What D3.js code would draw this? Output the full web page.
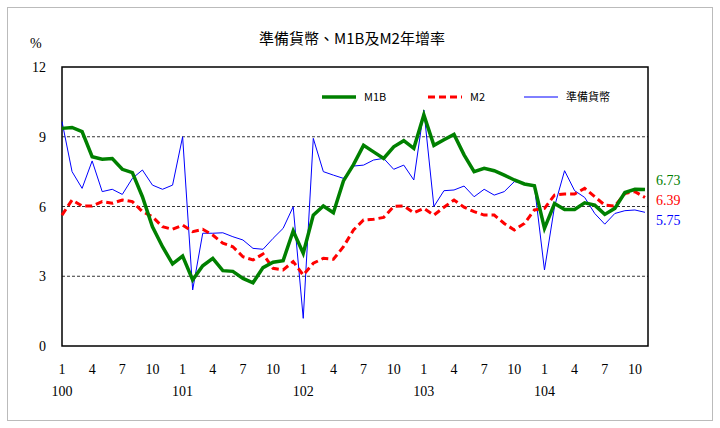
<!DOCTYPE html><html><head><meta charset="utf-8"><script src="https://cdn.jsdelivr.net/npm/d3@7"></script>
<style>body{margin:0;background:#fff}</style></head><body><svg id="c" width="720" height="428"></svg><script>
const m1b=[9.36,9.40,9.22,8.14,8.03,8.06,7.60,7.46,6.42,5.13,4.27,3.53,3.87,2.84,3.45,3.77,3.24,3.21,2.91,2.72,3.37,3.60,3.67,4.95,3.99,5.63,6.02,5.73,7.10,7.80,8.63,8.35,8.07,8.57,8.83,8.50,9.94,8.63,8.87,9.10,8.22,7.50,7.64,7.54,7.35,7.14,6.97,6.89,5.06,6.13,5.87,5.87,6.16,6.06,5.66,5.92,6.60,6.74,6.73];
const m2=[5.63,6.28,6.02,6.02,6.21,6.14,6.28,6.21,5.78,5.56,5.13,5.02,5.20,4.92,5.02,4.77,4.42,4.27,3.84,3.70,3.96,3.34,3.27,3.63,3.05,3.56,3.77,3.73,4.27,4.99,5.42,5.45,5.53,6.00,6.03,5.73,5.92,5.63,5.97,6.28,5.97,5.78,5.63,5.63,5.27,4.99,5.27,5.85,5.92,6.49,6.54,6.54,6.78,6.42,6.06,6.02,6.56,6.64,6.39];
const reserve=[9.65,7.50,6.78,7.96,6.64,6.74,6.52,7.21,7.57,6.92,6.74,6.92,9.00,2.41,4.85,4.85,4.87,4.70,4.56,4.20,4.16,4.63,5.06,5.99,1.19,8.93,7.50,7.35,7.21,7.74,7.78,8.00,8.07,7.60,7.78,7.14,10.15,6.00,6.68,6.71,6.88,6.42,6.74,6.49,6.64,7.07,7.00,6.88,3.27,6.00,7.54,6.68,6.39,5.70,5.24,5.70,5.82,5.85,5.75];
const yTicks=[0,3,6,9,12];
const monthLabels=["1","4","7","10"];
const years=["100","101","102","103","104"];
const svg=d3.select("#c");
const L=62,R=648,T=67,B=346;
const x=d3.scaleLinear().domain([0,58.3]).range([L,R]);
const y=d3.scaleLinear().domain([0,12]).range([B,T]);
const serif="'Liberation Serif','Times New Roman',serif", cjk="'Noto Sans CJK TC',sans-serif";
svg.append("rect").attr("x",7.5).attr("y",7.5).attr("width",705).attr("height",413).attr("fill","none").attr("stroke","#bbb");
svg.append("text").attr("x",352).attr("y",44).attr("text-anchor","middle").attr("font-size",15).attr("font-family",cjk+","+serif).text("準備貨幣、M1B及M2年增率");
svg.append("text").attr("x",30).attr("y",48).attr("font-size",14).attr("font-family",serif).text("%");
[3,6,9].forEach(v=>svg.append("line").attr("x1",L).attr("x2",R).attr("y1",y(v)).attr("y2",y(v)).attr("stroke","#000").attr("stroke-dasharray","3,2").attr("stroke-width",0.8));
svg.append("rect").attr("x",L).attr("y",T).attr("width",R-L).attr("height",B-T).attr("fill","none").attr("stroke","#000").attr("stroke-width",1.5);
yTicks.forEach(v=>svg.append("text").attr("x",46).attr("y",y(v)+5).attr("text-anchor","end").attr("font-size",14).attr("font-family",serif).text(v));
years.forEach((yr,k)=>{monthLabels.forEach((ml,j)=>{const i=k*12+j*3;if(i>58)return;svg.append("text").attr("x",x(i)).attr("y",374).attr("text-anchor","middle").attr("font-size",14).attr("font-family",serif).text(ml);});
 svg.append("text").attr("x",x(k*12)).attr("y",396).attr("text-anchor","middle").attr("font-size",14).attr("font-family",serif).text(yr);});
const line=d3.line().x((d,i)=>x(i)).y(d=>y(d));
svg.append("path").datum(reserve).attr("d",line).attr("fill","none").attr("stroke","#0000ff").attr("stroke-width",1);
svg.append("path").datum(m2).attr("d",line).attr("fill","none").attr("stroke","#ff0000").attr("stroke-width",3).attr("stroke-dasharray","7,4");
svg.append("path").datum(m1b).attr("d",line).attr("fill","none").attr("stroke","#008000").attr("stroke-width",3.5);
const leg=[{n:"M1B",c:"#008000",w:3.5,d:null,x:322},{n:"M2",c:"#ff0000",w:3,d:"7,4",x:428},{n:"準備貨幣",c:"#0000ff",w:1,d:null,x:524}];
leg.forEach(l=>{svg.append("line").attr("x1",l.x).attr("x2",l.x+34).attr("y1",97).attr("y2",97).attr("stroke",l.c).attr("stroke-width",l.w).attr("stroke-dasharray",l.d);
 svg.append("text").attr("x",l.x+42).attr("y",101).attr("font-size",11).attr("font-family",cjk).text(l.n);});
[[m1b,"#008000",185],[m2,"#ff0000",205],[reserve,"#0000ff",225]].forEach(([s,c,yy])=>svg.append("text").attr("x",656).attr("y",yy).attr("fill",c).attr("font-size",14).attr("font-family",serif).text(s[s.length-1].toFixed(2)));
</script></body></html>
